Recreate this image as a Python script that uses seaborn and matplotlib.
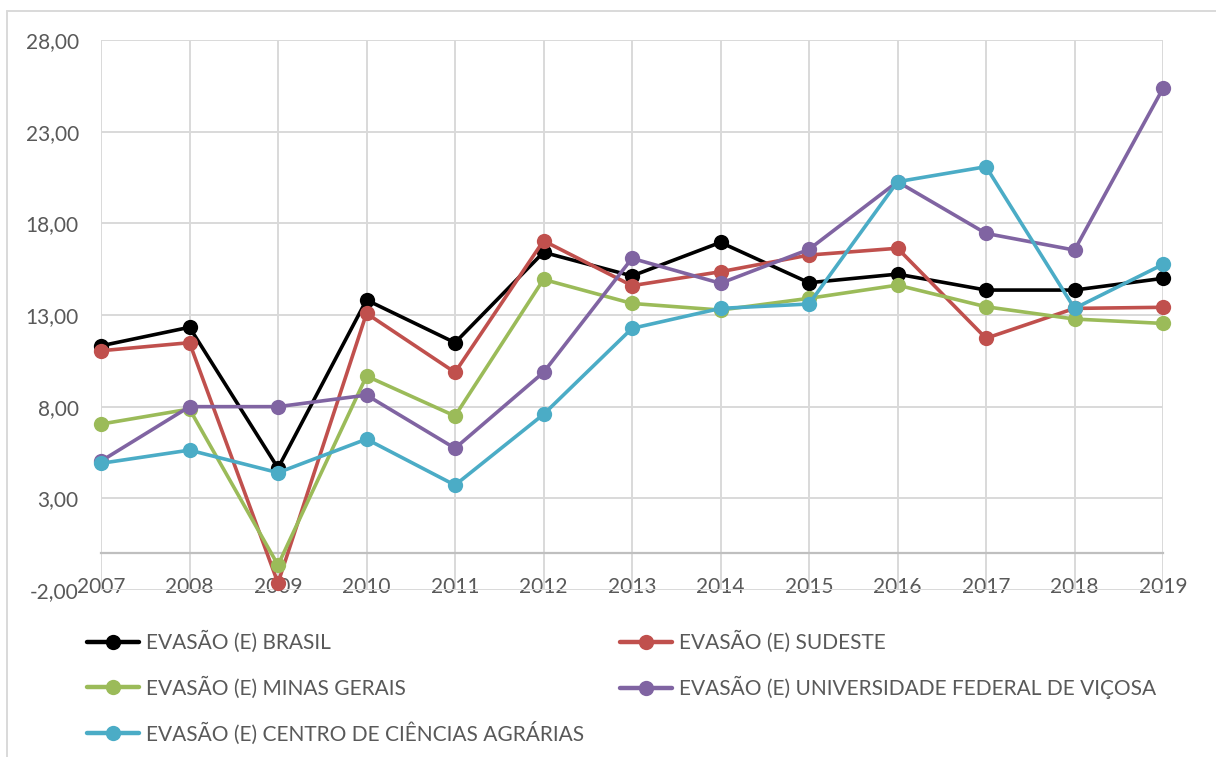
import pandas as pd
import seaborn as sns
import matplotlib.pyplot as plt
from matplotlib.lines import Line2D

anos = list(range(2007, 2020))
brasil = [11.32, 12.33, 4.65, 13.82, 11.49, 16.42, 15.13, 16.96, 14.76, 15.23, 14.36, 14.36, 15.00]
sudeste = [11.05, 11.49, -1.62, 13.09, 9.87, 17.05, 14.60, 15.36, 16.27, 16.64, 11.73, 13.36, 13.42]
minas = [7.05, 7.87, -0.64, 9.67, 7.49, 14.94, 13.63, 13.27, 13.91, 14.63, 13.45, 12.78, 12.54]
ufv = [5.03, 8.00, 8.00, 8.63, 5.73, 9.87, 16.09, 14.73, 16.58, 20.27, 17.45, 16.54, 25.36]
cca = [4.91, 5.63, 4.40, 6.23, 3.72, 7.58, 12.27, 13.36, 13.60, 20.27, 21.09, 13.36, 15.76]

series = {
    "EVASÃO (E) BRASIL": brasil,
    "EVASÃO (E) SUDESTE": sudeste,
    "EVASÃO (E) MINAS GERAIS": minas,
    "EVASÃO (E) UNIVERSIDADE FEDERAL DE VIÇOSA": ufv,
    "EVASÃO (E) CENTRO DE CIÊNCIAS AGRÁRIAS": cca,
}
cores = ["#000000", "#C0504D", "#9BBB59", "#8064A2", "#4BACC6"]

df = pd.DataFrame(
    [(nome, a, v) for nome, vals in series.items() for a, v in zip(anos, vals)],
    columns=["serie", "ano", "valor"],
)

sns.set_style("white")
plt.rcParams["font.family"] = ["Lato", "DejaVu Sans"]
cinza = "#595959"

fig = plt.figure(figsize=(12.16, 7.57), dpi=100)
ax = fig.add_axes([101 / 1216, 1 - 590 / 757, (1163 - 101) / 1216, (590 - 40) / 757])

sns.lineplot(data=df, x="ano", y="valor", hue="serie", palette=cores,
             marker="o", markersize=11, markeredgewidth=0, linewidth=2.6,
             ax=ax, legend=True)
for ln in ax.get_lines():
    ln.set_clip_on(False)
    ln.set_zorder(4)
    ln.set_solid_capstyle("round")

ax.set_xlim(2007, 2019)
ax.set_ylim(-2, 28)
ax.set_xticks(anos)
ax.set_yticks([-2, 3, 8, 13, 18, 23, 28])
ax.set_yticklabels([f"{t:.2f}".replace(".", ",") for t in [-2, 3, 8, 13, 18, 23, 28]])
ax.grid(True, color="#D9D9D9", linewidth=1.4)
ax.set_axisbelow(True)
for s in ["top", "right", "left"]:
    ax.spines[s].set_visible(False)
ax.spines["bottom"].set_position(("data", 0))
ax.spines["bottom"].set_color("#BFBFBF")
ax.spines["bottom"].set_linewidth(1.6)
ax.spines["bottom"].set_zorder(1)
ax.tick_params(axis="x", length=0, pad=17, labelsize=15, labelcolor=cinza)
ax.tick_params(axis="y", length=0, pad=16, labelsize=15, labelcolor=cinza)
ax.set_xlabel("")
ax.set_ylabel("")

handles, labels = ax.get_legend_handles_labels()
ax.get_legend().remove()
hs = [Line2D([], [], color=c, linewidth=3.2, marker="o", markersize=11,
             markeredgewidth=0, solid_capstyle="round") for c in cores]
kw = dict(loc="upper left", frameon=False, fontsize=15, handlelength=2.5,
          handletextpad=0.33, labelspacing=1.1, borderpad=0, borderaxespad=0,
          labelcolor=cinza)
fig.legend([hs[0], hs[2], hs[4]], [labels[0], labels[2], labels[4]],
           bbox_to_anchor=(87 / 1216, 1 - 631 / 757), **kw)
fig.legend([hs[1], hs[3]], [labels[1], labels[3]],
           bbox_to_anchor=(620 / 1216, 1 - 631 / 757), **kw)

# moldura do gráfico
fig.add_artist(Line2D([7 / 1216, 7 / 1216], [0, 1 - 11 / 757], color="#D9D9D9", linewidth=1.4))
fig.add_artist(Line2D([7 / 1216, 1], [1 - 11 / 757, 1 - 11 / 757], color="#D9D9D9", linewidth=1.4))

fig.savefig("out.png", dpi=100)
